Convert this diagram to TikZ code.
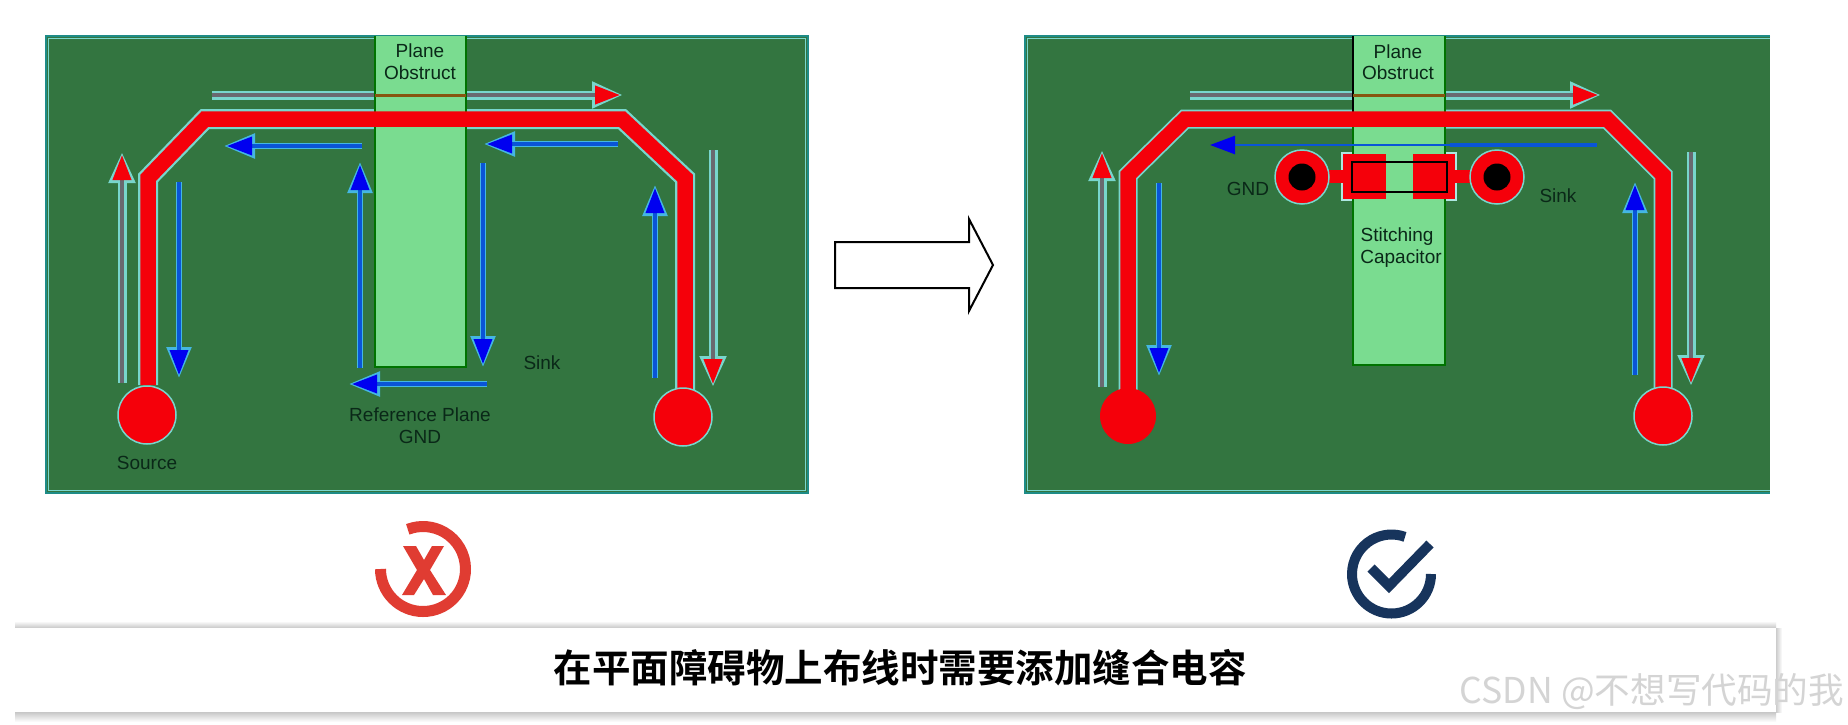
\documentclass[tikz,border=0pt]{standalone}
\usepackage{fontspec}
\setmainfont{Liberation Sans}
\newfontfamily\cjkbold[BoldFont=Noto Sans CJK SC Bold]{Noto Sans CJK SC}
\newfontfamily\cjkreg{Noto Sans CJK SC}
\usetikzlibrary{arrows.meta,calc}
\definecolor{boardc}{RGB}{51,117,64}
\definecolor{planec}{RGB}{122,220,144}
\definecolor{edgec}{RGB}{30,140,135}
\definecolor{haloc}{RGB}{120,214,205}
\definecolor{bluec}{RGB}{10,85,215}
\definecolor{headb}{RGB}{0,0,240}
\definecolor{grayc}{RGB}{105,105,112}
\definecolor{redc}{RGB}{245,0,10}
\definecolor{labelc}{RGB}{10,40,24}
\definecolor{goldc}{RGB}{135,85,15}
\definecolor{crossc}{RGB}{224,60,50}
\definecolor{checkc}{RGB}{23,52,92}
\tikzset{
  x=1pt,y=-1pt,
  board/.style={fill=boardc,draw=edgec,line width=2.5pt},
  plane/.style={fill=planec,draw=none},
  planeedge/.style={draw=green!45!black,line width=1.5pt},
  tracehalo/.style={draw=haloc,line width=20pt,miter limit=10},
  trace/.style={draw=redc,line width=15.5pt,miter limit=10},
  pad/.style={circle,fill=redc,draw=haloc,line width=1.5pt,minimum size=#1,inner sep=0pt},
  lab/.style={font=\fontsize{19}{21}\selectfont,text=labelc,inner sep=0pt},
  grayhalo/.style={draw=haloc,line width=9pt,-{Triangle[length=31pt,width=25pt,fill=haloc]},shorten >=-3pt},
  graycore/.style={draw=grayc,line width=4pt,-{Triangle[length=25pt,width=18pt,fill=redc,color=redc]}},
  bluehalo/.style={draw=cyan!55!haloc,line width=5.5pt,-{Triangle[length=31pt,width=24pt,fill=cyan!55!haloc]},shorten >=-3pt},
  bluecore/.style={draw=bluec,line width=3.5pt,-{Triangle[length=25pt,width=18pt,fill=headb,color=headb]}},
  capout/.style={draw=black,line width=2pt},
  holec/.style={circle,fill=black,minimum size=27pt,inner sep=0pt},
}
\newcommand{\grayarrow}[2]{\draw[grayhalo] #1 -- #2; \draw[graycore] #1 -- #2;}
\newcommand{\bluearrow}[2]{\draw[bluehalo] #1 -- #2; \draw[bluecore] #1 -- #2;}
\begin{document}
\begin{tikzpicture}
\useasboundingbox (0,0) rectangle (1848,724);
\fill[white] (0,0) rectangle (1848,724);

% ---------- left board ----------
\draw[board] (46,36) rectangle (808,493);
\draw[haloc,line width=1pt] (48.5,38.5) rectangle (805.5,490.5);
\coordinate (la) at (148,385);
\coordinate (lb) at (148,178);
\coordinate (lc) at (205,119);
\coordinate (ld) at (622,119);
\coordinate (le) at (685,178);
\coordinate (lf) at (685,390);
\draw[tracehalo] (la) -- (lb) -- (lc) -- (ld) -- (le) -- (lf);
\grayarrow{(212,95)}{(620,95)}
\grayarrow{(122,383)}{(122,155)}
\grayarrow{(713,150)}{(713,384)}
\fill[plane] (375,36) rectangle (466,367);
\draw[planeedge] (375,36) -- (375,367) -- (466,367) -- (466,36);
\draw[goldc,line width=3pt] (375,95) -- (466,95);
\draw[trace] (la) -- (lb) -- (lc) -- (ld) -- (le) -- (lf);
\node[pad=58pt] (lsrc) at (147,415) {};
\node[pad=58pt] (lsnk) at (683,417) {};
\bluearrow{(179,182)}{(179,375)}
\bluearrow{(362,146)}{(227,146)}
\bluearrow{(360,368)}{(360,165)}
\bluearrow{(618,144)}{(487,144)}
\bluearrow{(483,163)}{(483,364)}
\bluearrow{(487,384)}{(352,384)}
\bluearrow{(655,378)}{(655,188)}
\node[lab] (lp1) at (420,51) {Plane};
\node[lab] (lp2) at (420,73) {Obstruct};
\node[lab] (lsink) at (542,363) {Sink};
\node[lab] (lref) at (420,415) {Reference Plane};
\node[lab] (lgnd) at (420,437) {GND};
\node[lab] (lsource) at (147,463) {Source};

% ---------- big arrow ----------
\draw[black,line width=2pt,fill=white,line join=miter]
  (835,242) -- (969,242) -- (969,219) -- (993,265) -- (969,311) -- (969,288) -- (835,288) -- cycle;

% ---------- right board ----------
\fill[boardc] (1025,36) rectangle (1770,493);
\draw[edgec,line width=2.5pt] (1770,36) -- (1025,36) -- (1025,493) -- (1770,493);
\draw[haloc,line width=1pt] (1770,38.5) -- (1027.5,38.5) -- (1027.5,490.5) -- (1770,490.5);
\coordinate (ra) at (1128,390);
\coordinate (rb) at (1128,175);
\coordinate (rc) at (1185,119);
\coordinate (rd) at (1607,119);
\coordinate (re) at (1663,175);
\coordinate (rf) at (1663,390);
\draw[tracehalo,line width=19pt] (ra) -- (rb) -- (rc) -- (rd) -- (re) -- (rf);
\grayarrow{(1190,95)}{(1598,95)}
\grayarrow{(1102,387)}{(1102,153)}
\grayarrow{(1691,152)}{(1691,383)}
\fill[haloc!60!white] (1341,152) rectangle (1457,201);
\fill[plane] (1353,36) rectangle (1445,365);
\draw[green!45!black,line width=1.5pt] (1353,112) -- (1353,365) -- (1445,365) -- (1445,36);
\draw[black,line width=2pt] (1353,36) -- (1353,112);
\draw[goldc,line width=3pt] (1353,95) -- (1445,95);
\draw[trace] (ra) -- (rb) -- (rc) -- (rd) -- (re) -- (rf);
\node[pad=56pt,draw=none] (rsrc) at (1128,416) {};
\node[pad=58pt] (rsnk) at (1663,416) {};
\bluearrow{(1159,183)}{(1159,373)}
\bluearrow{(1635,375)}{(1635,185)}
\draw[bluecore,line width=2.5pt] (1597,145) -- (1210,145);
\draw[bluec,line width=4pt] (1597,145) -- (1450,145);
% capacitor
\fill[redc] (1302,170) rectangle (1497,183);
\fill[planec] (1386,154) rectangle (1413,199);
\fill[redc] (1343,154) rectangle (1386,199);
\fill[redc] (1413,154) rectangle (1455,199);
\node[pad=54pt] (rvia1) at (1302,177) {};
\node[pad=54pt] (rvia2) at (1497,177) {};
\node[holec] (rhole1) at (rvia1) {};
\node[holec] (rhole2) at (rvia2) {};
\draw[capout] (1352,162) rectangle (1447,192);
\node[lab] (rp1) at (1398,52) {Plane};
\node[lab] (rp2) at (1398,73) {Obstruct};
\node[lab] (rgnd) at (1248,189) {GND};
\node[lab] (rsink) at (1558,196) {Sink};
\node[lab] (rst) at (1397,237) {Stitching};
\node[lab] (rcap) at (1401,259) {Capacitor};

% ---------- status icons ----------
\draw[crossc,line width=11pt] (380.5,569) arc[start angle=180,end angle=471,radius=42.5pt];
\fill[crossc] (403,546) -- (416,546) -- (424,560) -- (432,546) -- (444,546) -- (430,570)
  -- (446,595) -- (433,595) -- (424,579) -- (414,595) -- (402,595) -- (417,570) -- cycle;
\draw[checkc,line width=10pt] (1431,574) arc[start angle=0,end angle=-290,radius=39.5pt];
\draw[checkc,line width=10pt,line join=miter] (1371,568) -- (1389,586) -- (1430,544);

% ---------- caption ----------
\shade[top color=white,bottom color=black!22] (15,621) rectangle (1776,628);
\shade[top color=black!22,bottom color=white] (15,712) rectangle (1776,722);
\shade[left color=black!20,right color=white] (1776,628) rectangle (1782,712);
\fill[white] (15,628) rectangle (1776,712);
\node[inner sep=0pt,font=\fontsize{38.5}{40}\selectfont\cjkbold\bfseries] (cap) at (900,667.5) {在平面障碍物上布线时需要添加缝合电容};
\node[inner sep=0pt,text=black!17,font=\fontsize{35.6}{38}\selectfont\cjkreg] (wm) at (1652,692) {CSDN @不想写代码的我};
\end{tikzpicture}
\end{document}
